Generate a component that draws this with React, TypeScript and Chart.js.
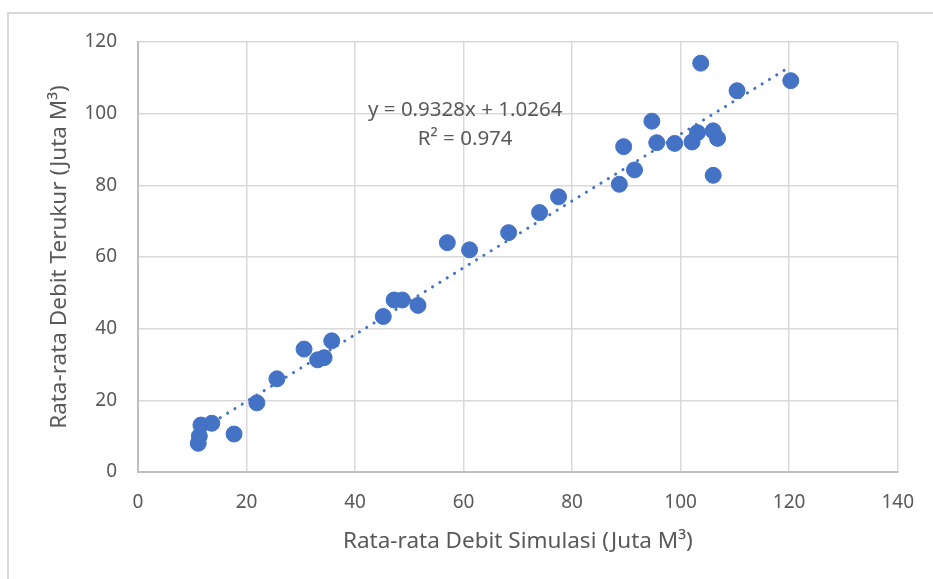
import React, { useEffect, useRef } from "react";
import { Chart, registerables } from "chart.js";

Chart.register(...registerables);

// Data
const simulasi: number[] = [
  11.1, 11.3, 11.6, 13.6, 17.7, 21.9, 25.6, 30.6, 33.1, 34.3, 35.7, 45.2, 47.2, 48.7, 51.6,
  57.0, 61.1, 68.3, 74.0, 77.5, 88.7, 89.5, 91.5, 94.7, 95.6, 98.9, 102.1, 103.1, 103.7,
  106.0, 106.8, 106.0, 110.4, 120.3,
];
const terukur: number[] = [
  8.0, 10.0, 13.1, 13.6, 10.6, 19.3, 26.0, 34.3, 31.3, 31.9, 36.6, 43.4, 48.0, 48.0, 46.5,
  64.0, 62.0, 66.8, 72.4, 76.8, 80.3, 90.8, 84.3, 97.9, 91.9, 91.7, 92.1, 94.7, 114.1,
  95.2, 93.1, 82.8, 106.4, 109.2,
];
const slope = 0.9328;
const intercept = 1.0264;
const rSquared = 0.974;
const xTicks: number[] = [0, 20, 40, 60, 80, 100, 120, 140];
const yTicks: number[] = [0, 20, 40, 60, 80, 100, 120];
const xTitle = "Rata-rata Debit Simulasi (Juta M\u00B3)";
const yTitle = "Rata-rata Debit Terukur (Juta M\u00B3)";
const eqText = "y = 0.9328x + 1.0264";
const r2Text = "R\u00B2 = " + rSquared.toFixed(3);

const FONT = "'Noto Sans', 'Open Sans', sans-serif";
const TEXT = "#595959";
const BLUE = "#4472C4";

export default function App() {
  const ref = useRef<HTMLCanvasElement | null>(null);

  useEffect(() => {
    if (!ref.current) return;
    const minX = Math.min(...simulasi);
    const maxX = Math.max(...simulasi);
    const trend = [
      { x: minX, y: slope * minX + intercept },
      { x: maxX, y: slope * maxX + intercept },
    ];
    const points = simulasi.map((x, i) => ({ x, y: terukur[i] }));

    const eqPlugin = {
      id: "eqLabel",
      afterDatasetsDraw(chart: any) {
        const { ctx, scales } = chart;
        const cx = scales.x.getPixelForValue(60.3);
        const y1 = scales.y.getPixelForValue(101.0);
        const y2 = scales.y.getPixelForValue(93.0);
        ctx.save();
        ctx.fillStyle = TEXT;
        ctx.font = `20.5px ${FONT}`;
        ctx.textAlign = "center";
        ctx.textBaseline = "middle";
        ctx.fillText(eqText, cx, y1);
        ctx.fillText(r2Text, cx, y2);
        ctx.restore();
      },
    };

    const chart = new Chart(ref.current, {
      type: "scatter",
      data: {
        datasets: [
          {
            type: "line",
            label: "Trend",
            data: trend,
            borderColor: BLUE,
            borderWidth: 3,
            borderDash: [0.1, 8.5],
            borderCapStyle: "round",
            pointRadius: 0,
            fill: false,
            order: 0,
          } as any,
          {
            label: "Data",
            data: points,
            backgroundColor: BLUE,
            borderColor: BLUE,
            borderWidth: 1,
            pointRadius: 8,
            order: 1,
          },
        ],
      },
      options: {
        animation: false,
        responsive: false,
        maintainAspectRatio: false,
        layout: { padding: { left: 0, top: 42, right: 34.5, bottom: 0 } },
        plugins: {
          legend: { display: false },
          tooltip: { enabled: false },
        },
        scales: {
          x: {
            type: "linear",
            min: 0,
            max: 140,
            afterBuildTicks: (s: any) => {
              s.ticks = xTicks.map((v) => ({ value: v }));
            },
            afterFit: (s: any) => {
              s.height = 107;
            },
            grid: { color: "#d9d9d9", lineWidth: 1.5, drawTicks: false },
            border: { color: "#bfbfbf", width: 2 },
            ticks: {
              color: TEXT,
              font: { family: FONT, size: 19 },
              padding: 19,
              maxRotation: 0,
            },
            title: {
              display: true,
              text: xTitle,
              color: TEXT,
              font: { family: FONT, size: 22.5 },
              padding: { top: 0, bottom: 24 },
            },
          },
          y: {
            type: "linear",
            min: 0,
            max: 120,
            afterBuildTicks: (s: any) => {
              s.ticks = yTicks.map((v) => ({ value: v }));
            },
            afterFit: (s: any) => {
              s.width = 138;
            },
            grid: { color: "#d9d9d9", lineWidth: 1.5, drawTicks: false },
            border: { color: "#bfbfbf", width: 2 },
            ticks: {
              color: TEXT,
              font: { family: FONT, size: 19 },
              padding: 21,
            },
            title: {
              display: true,
              text: yTitle,
              color: TEXT,
              font: { family: FONT, size: 22.5 },
              padding: { top: 46, bottom: 0 },
            },
          },
        },
      },
      plugins: [eqPlugin],
    });
    return () => chart.destroy();
  }, []);

  return (
    <div
      style={{
        position: "fixed",
        left: 0,
        top: 0,
        width: 933,
        height: 579,
        overflow: "hidden",
        background: "#ffffff",
      }}
    >
      <div
        style={{
          position: "absolute",
          left: 7,
          top: 12,
          width: 940,
          height: 600,
          borderTop: "2px solid #d9d9d9",
          borderLeft: "2px solid #d9d9d9",
        }}
      />
      <canvas
        ref={ref}
        width={933}
        height={579}
        style={{ position: "absolute", left: 0, top: 0, width: 933, height: 579 }}
      />
    </div>
  );
}
